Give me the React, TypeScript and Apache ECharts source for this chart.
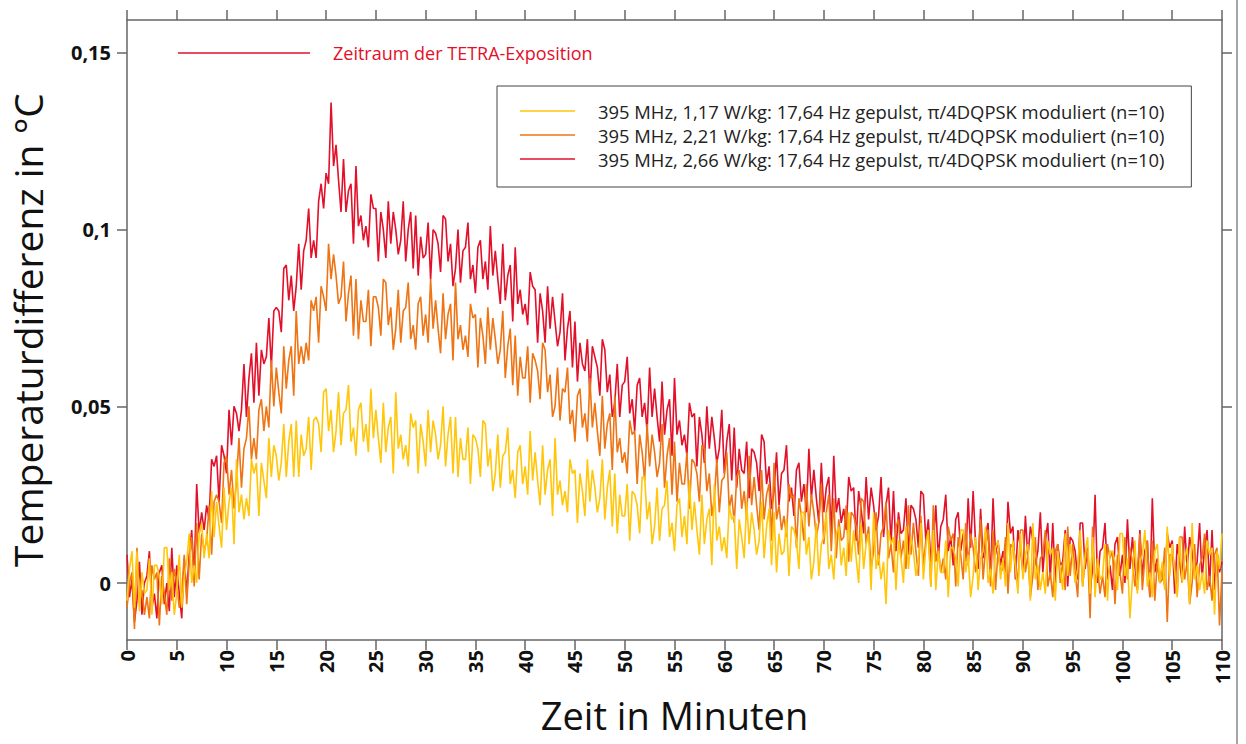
import React, { useEffect, useRef } from "react";
import * as echarts from "echarts";

// Time grid: one sample every 0.25 min, 0..110 min
const SAMPLE_STEP_MIN = 0.25;

// Temperature differences in thousandths of °C (m°C)
const red266: number[] = [
  8, -4, 1, -11, -5, 6, -9, 0, 2, 9, -7, -3, -10, 3, 5, -6, 0, -8, 10, -4, 5, -3, -10, 7,
  -3, 8, 15, 2, 28, 14, 20, 15, 22, 18, 35, 33, 36, 23, 39, 36, 31, 49, 39, 50,
  48, 43, 49, 62, 47, 58, 65, 51, 68, 53, 66, 62, 64, 75, 61, 77, 78, 77, 71, 89,
  90, 80, 87, 77, 84, 96, 83, 94, 97, 106, 92, 97, 92, 108, 113, 106, 116, 113, 136, 118,
  124, 114, 105, 120, 105, 111, 113, 96, 118, 101, 104, 97, 101, 95, 110, 106, 106, 91, 105, 100,
  92, 108, 96, 105, 100, 93, 97, 108, 91, 100, 105, 89, 104, 87, 98, 92, 93, 102, 86, 100,
  99, 96, 88, 104, 103, 91, 96, 84, 89, 100, 85, 94, 95, 102, 86, 90, 82, 95, 97, 86,
  91, 83, 101, 87, 94, 86, 79, 96, 80, 87, 90, 74, 95, 79, 83, 76, 79, 73, 88, 84,
  83, 68, 82, 77, 68, 84, 72, 81, 74, 67, 71, 82, 63, 72, 77, 61, 74, 57, 68, 62,
  60, 69, 53, 67, 64, 61, 53, 69, 66, 54, 59, 47, 51, 62, 47, 56, 57, 64, 48, 52,
  43, 56, 58, 47, 51, 43, 61, 47, 55, 47, 40, 57, 42, 49, 52, 36, 58, 42, 46, 39,
  42, 36, 51, 47, 48, 33, 47, 42, 34, 50, 38, 47, 41, 34, 38, 49, 31, 40, 45, 29,
  44, 27, 38, 32, 31, 40, 24, 38, 37, 34, 26, 42, 40, 28, 33, 21, 26, 37, 22, 31,
  32, 39, 23, 27, 19, 32, 34, 23, 28, 20, 38, 24, 32, 24, 17, 34, 20, 27, 30, 14,
  36, 20, 24, 17, 21, 15, 30, 26, 27, 12, 26, 21, 14, 30, 18, 27, 22, 15, 19, 30,
  13, 22, 27, 11, 26, 9, 20, 14, 15, 24, 8, 22, 21, 18, 10, 26, 25, 12, 18, 6,
  11, 22, 7, 16, 18, 25, 9, 13, 5, 18, 20, 9, 14, 6, 24, 10, 26, 11, 4, 21,
  7, 14, 17, 1, 24, 8, 12, 5, 9, 3, 23, 14, 16, 1, 15, 10, 3, 19, 7, 16,
  12, 5, 9, 20, 3, 12, 17, 1, 17, 0, 11, 5, 6, 15, -1, 13, 12, 9, 1, 17,
  17, 4, 10, -2, 4, 25, 0, 9, 10, 17, 1, 5, -2, 11, 13, 2, 8, 0, 18, 4,
  13, 5, -2, 15, 2, 9, 12, -4, 24, 3, 7, 0, 5, -1, 14, 10, 12, -3, 11, 6,
  0, 16, 4, 13, 9, 2, 6, 17, 1, 10, 15, -1, 15, -2, 9, 3, 6,
];

const orange221: number[] = [
  -7, 0, 3, -13, 10, -6, -2, -9, -4, -10, 5, 1, 3, -12, 2, -3, -9, 7, -5, 4, 0, -7, -3, 8,
  -6, 6, 13, -1, 17, 1, 14, 9, 12, 22, 8, 23, 25, 23, 17, 34, 36, 25, 32, 21,
  29, 41, 27, 38, 41, 50, 35, 41, 35, 49, 52, 43, 50, 44, 63, 50, 61, 54, 48, 67,
  55, 63, 67, 53, 77, 62, 67, 62, 68, 63, 80, 77, 81, 68, 84, 81, 77, 96, 86, 93,
  87, 79, 81, 91, 74, 82, 87, 70, 86, 69, 80, 74, 74, 83, 67, 81, 81, 78, 70, 86,
  85, 73, 78, 66, 72, 83, 68, 77, 78, 85, 69, 73, 66, 79, 81, 70, 76, 68, 86, 72,
  80, 72, 65, 82, 69, 76, 79, 63, 85, 69, 73, 66, 70, 64, 79, 75, 76, 61, 75, 70,
  62, 78, 66, 75, 69, 62, 66, 77, 58, 67, 72, 56, 70, 53, 64, 58, 58, 67, 51, 65,
  63, 60, 52, 68, 66, 54, 59, 47, 50, 61, 46, 55, 54, 61, 45, 49, 40, 53, 55, 44,
  48, 40, 58, 44, 51, 43, 36, 53, 38, 45, 48, 32, 53, 37, 41, 34, 37, 31, 46, 42,
  43, 28, 42, 37, 29, 45, 33, 42, 37, 30, 34, 45, 27, 36, 41, 25, 40, 23, 34, 28,
  28, 37, 21, 35, 34, 31, 23, 39, 38, 26, 31, 19, 24, 35, 20, 29, 30, 37, 21, 25,
  17, 30, 32, 21, 26, 18, 36, 22, 30, 22, 15, 32, 18, 25, 28, 12, 34, 18, 22, 15,
  19, 13, 28, 24, 25, 10, 24, 19, 12, 28, 16, 25, 20, 13, 17, 28, 11, 20, 25, 9,
  24, 7, 18, 12, 13, 22, 6, 20, 19, 16, 8, 24, 23, 11, 16, 4, 9, 20, 5, 14,
  16, 23, 7, 11, 3, 16, 18, 7, 12, 4, 22, 8, 17, 9, 2, 19, 5, 12, 15, -1,
  22, 6, 10, 3, 7, 1, 16, 12, 14, -1, 13, 8, 1, 17, 5, 14, 10, 3, 7, 18,
  1, 10, 15, -1, 15, -2, 9, 3, 4, 13, -3, 11, 10, 7, -1, 15, 15, 3, 8, -4,
  2, 13, -2, 7, 8, 15, -1, 3, -4, 9, 11, 0, 6, -2, 16, 2, 11, 3, -4, 13,
  -1, 6, 9, -10, 16, 0, 4, -3, 2, -4, 11, 7, 9, -6, 8, 3, -3, 13, 1, 10,
  6, -1, 3, 14, -2, 7, 12, -4, 12, -5, 6, 0, 1, 10, -11, 8, 8, 5, -3, 13,
  13, 1, 6, -6, 0, 11, -4, 5, 7, 14, -2, 2, -5, 8, 10, -12, 3,
];

const yellow117: number[] = [
  -5, 4, 9, -7, 9, -8, 3, -3, -2, 7, -9, 5, 5, 2, -6, 10, 10, -2, 3, -9, -3, 8, -7, 2,
  6, 14, 0, 5, 0, 14, 17, 7, 14, 7, 26, 13, 23, 16, 10, 27, 15, 23, 27, 11,
  35, 20, 25, 18, 24, 19, 35, 31, 34, 19, 34, 29, 24, 41, 30, 39, 36, 29, 34, 45,
  30, 40, 45, 30, 46, 30, 42, 36, 38, 47, 32, 46, 47, 45, 37, 54, 55, 43, 49, 37,
  43, 54, 39, 48, 49, 56, 40, 44, 36, 49, 51, 40, 45, 37, 55, 41, 49, 41, 34, 51,
  37, 44, 47, 31, 54, 38, 42, 35, 39, 33, 48, 44, 46, 31, 45, 40, 33, 49, 37, 46,
  42, 35, 39, 50, 33, 42, 47, 31, 47, 30, 41, 35, 35, 44, 28, 42, 41, 38, 30, 46,
  45, 33, 38, 26, 31, 42, 27, 36, 37, 44, 28, 32, 24, 37, 39, 28, 33, 25, 43, 29,
  37, 29, 22, 39, 25, 32, 35, 19, 41, 25, 29, 22, 26, 20, 35, 31, 32, 17, 31, 26,
  19, 35, 23, 32, 27, 20, 24, 35, 18, 27, 32, 16, 31, 14, 25, 19, 19, 28, 12, 26,
  25, 22, 14, 30, 30, 18, 23, 11, 16, 27, 12, 21, 22, 29, 13, 17, 9, 22, 24, 13,
  19, 11, 29, 15, 23, 15, 8, 25, 11, 18, 21, 5, 28, 12, 16, 9, 13, 7, 22, 18,
  19, 4, 18, 13, 7, 23, 11, 20, 15, 8, 12, 23, 7, 16, 21, 5, 20, 3, 14, 8,
  9, 18, 2, 16, 15, 12, 4, 20, 20, 8, 13, 1, 6, 17, 2, 11, 13, 20, 4, 8,
  1, 14, 16, 5, 10, 2, 20, 6, 15, 7, 0, 17, 4, 11, 14, -2, 20, 4, 8, 1,
  6, -6, 15, 11, 13, -2, 12, 7, 0, 16, 4, 13, 9, 2, 6, 17, 1, 10, 15, -1,
  15, -2, 9, 3, 3, 12, -4, 10, 10, 7, -1, 15, 15, 3, 8, -4, 2, 13, -2, 7,
  9, 16, 0, 4, -3, 10, 12, 1, 7, -1, 17, 3, 12, 4, -3, 14, 1, 8, 11, -5,
  17, 1, 5, -2, 3, -3, 12, 8, 10, -5, 9, 4, -2, 14, 2, 11, 7, 0, 4, 15,
  -1, 8, 13, -3, 13, -4, 7, 1, 2, 11, -5, 9, 9, 6, -2, 14, 14, 2, 7, -10,
  1, 12, -3, 6, 8, 15, -1, 3, -4, 9, 11, 0, 6, -2, 16, 2, 11, 3, -4, 13,
  0, 7, 10, -6, 17, 1, 5, -2, 3, -3, 12, 8, 10, -9, 9, 4, 14,
];

const seriesNames: string[] = [
  "395 MHz, 1,17 W/kg: 17,64 Hz gepulst, π/4DQPSK moduliert (n=10)",
  "395 MHz, 2,21 W/kg: 17,64 Hz gepulst, π/4DQPSK moduliert (n=10)",
  "395 MHz, 2,66 W/kg: 17,64 Hz gepulst, π/4DQPSK moduliert (n=10)",
];
const seriesColors: string[] = ["#ffc60a", "#ee7414", "#e3102a"];

const yTickValues: number[] = [0, 0.05, 0.1, 0.15];
const xAxisTitle = "Zeit in Minuten";
const yAxisTitle = "Temperaturdifferenz in °C";
const exposureLabel = "Zeitraum der TETRA-Exposition";

const Y_MIN = -0.01613;
const Y_MAX = 0.15933;

function toPairs(arr: number[]): [number, number][] {
  return arr.map((v, i) => [i * SAMPLE_STEP_MIN, v / 1000]);
}

export default function App() {
  const ref = useRef<HTMLDivElement>(null);

  useEffect(() => {
    if (!ref.current) return;
    const chart = echarts.init(ref.current, undefined, { renderer: "svg" });
    const axisColor = "#666";
    const fmtY = (v: number) => String(v).replace(".", ",");

    const dataSets = [yellow117, orange221, red266];
    // draw red first, yellow on top
    const order = [2, 1, 0];
    const series = order.map((k) => ({
      name: seriesNames[k],
      type: "line",
      xAxisIndex: 0,
      yAxisIndex: 0,
      data: toPairs(dataSets[k]),
      symbol: "none",
      showSymbol: false,
      lineStyle: { color: seriesColors[k], width: 1.6 },
      itemStyle: { color: seriesColors[k] },
      emphasis: { disabled: true },
    }));

    const frameLine = { show: true, onZero: false, lineStyle: { color: axisColor, width: 1.5 } };

    chart.setOption({
      animation: false,
      backgroundColor: "#fff",
      grid: { left: 124, top: 20, width: 1098, height: 620, containLabel: false },
      legend: {
        orient: "vertical",
        left: 497,
        top: 86,
        data: seriesNames,
        icon: "rect",
        itemWidth: 55,
        itemHeight: 1.5,
        itemGap: 6,
        padding: [16, 27, 19, 23],
        borderColor: "#444",
        borderWidth: 1,
        backgroundColor: "#fff",
        selectedMode: false,
        textStyle: {
          fontFamily: "Open Sans",
          fontSize: 18.4,
          lineHeight: 18,
          color: "#222",
          padding: [0, 0, 0, 18],
        },
      },
      xAxis: [
        {
          type: "value",
          min: 0,
          max: 110,
          interval: 5,
          position: "bottom",
          name: xAxisTitle,
          nameLocation: "middle",
          nameGap: 56,
          nameTextStyle: { fontFamily: "Open Sans", fontSize: 38, color: "#111" },
          axisLine: frameLine,
          axisTick: { show: true, length: 10, lineStyle: { color: axisColor, width: 1.5 } },
          axisLabel: {
            rotate: 90,
            margin: 10,
            fontFamily: "Open Sans",
            fontWeight: "bold",
            fontSize: 20,
            color: "#111",
          },
          splitLine: { show: false },
        },
        {
          type: "value",
          min: 0,
          max: 110,
          interval: 5,
          position: "top",
          axisLine: frameLine,
          axisTick: { show: true, length: 10, lineStyle: { color: axisColor, width: 1.5 } },
          axisLabel: { show: false },
          splitLine: { show: false },
        },
      ],
      yAxis: [
        {
          type: "value",
          min: Y_MIN,
          max: Y_MAX,
          position: "left",
          name: yAxisTitle,
          nameLocation: "middle",
          nameGap: 80,
          nameTextStyle: { fontFamily: "Open Sans", fontSize: 39, color: "#111" },
          axisLine: frameLine,
          axisTick: {
            show: true,
            length: 10,
            customValues: yTickValues,
            lineStyle: { color: axisColor, width: 1.5 },
          },
          axisLabel: {
            customValues: yTickValues,
            formatter: fmtY,
            margin: 16,
            fontFamily: "Open Sans",
            fontWeight: "bold",
            fontSize: 20,
            color: "#111",
          },
          splitLine: { show: false },
        },
        {
          type: "value",
          min: Y_MIN,
          max: Y_MAX,
          position: "right",
          axisLine: frameLine,
          axisTick: {
            show: true,
            length: 10,
            customValues: yTickValues,
            lineStyle: { color: axisColor, width: 1.5 },
          },
          axisLabel: { show: false },
          splitLine: { show: false },
        },
      ],
      graphic: [
        {
          type: "line",
          shape: { x1: 178, y1: 53, x2: 310, y2: 53 },
          style: { stroke: "#e3102a", lineWidth: 1.5 },
        },
        {
          type: "text",
          x: 333,
          y: 53,
          style: {
            text: exposureLabel,
            fill: "#e3102a",
            font: "18px 'Open Sans'",
            verticalAlign: "middle",
          },
        },
        {
          type: "line",
          shape: { x1: 1237, y1: 0, x2: 1237, y2: 744 },
          style: { stroke: "#888", lineWidth: 1.5 },
        },
      ],
      series,
    });

    return () => chart.dispose();
  }, []);

  return (
    <div
      ref={ref}
      style={{ position: "fixed", left: 0, top: 0, width: 1246, height: 744, background: "#fff" }}
    />
  );
}
